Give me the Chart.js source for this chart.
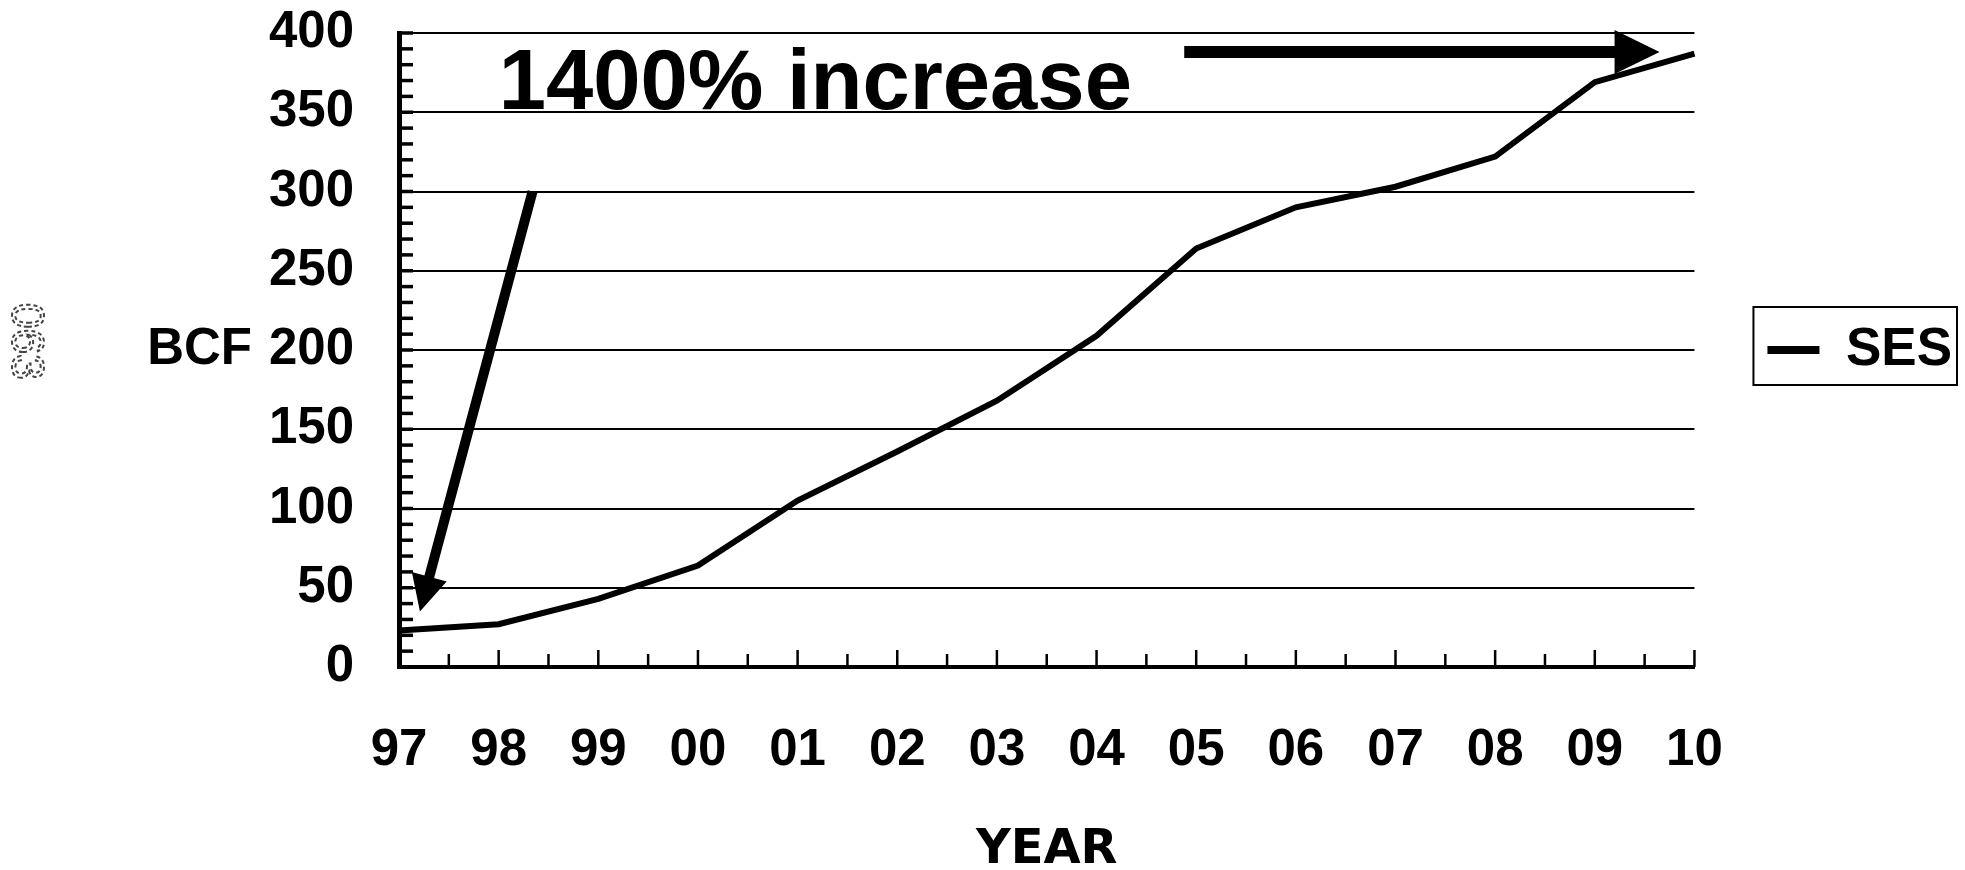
<!DOCTYPE html>
<html>
<head>
<meta charset="utf-8">
<script src="https://cdn.jsdelivr.net/npm/chart.js@4.4.1/dist/chart.umd.min.js"></script>
<style>
  html, body { margin: 0; padding: 0; background: #fff; }
  #c { display: block; }
</style>
</head>
<body>
<canvas id="c" width="1965" height="870"></canvas>
<script>
// ---- data ----
const categories = ['97', '98', '99', '00', '01', '02', '03', '04', '05', '06', '07', '08', '09', '10'];
const sesValues = [23, 27, 43, 64, 105, 136, 168, 209, 264, 290, 303, 322, 369, 387];
const yTickValues = [0, 50, 100, 150, 200, 250, 300, 350, 400];
const seriesName = 'SES';
const yAxisLabel = 'BCF';
const xAxisLabel = 'YEAR';
const calloutText = '1400% increase';
const stampText = '063';

// ---- annotation anchors (in data units: category index, BCF value) ----
const calloutAnchor = { x: 1.0, y: 352 };
const diagArrow = { from: { x: 1.34, y: 300 }, to: { x: 0.21, y: 35 } };
const flatArrow = { from: { x: 7.88, y: 388 }, to: { x: 12.65, y: 388 } };
const yAxisLabelValue = 200;

const FONT = '"Liberation Sans", Arial, Helvetica, sans-serif';

function drawArrow(ctx, x1, y1, x2, y2, shaft, headLen, headW) {
  const dx = x2 - x1, dy = y2 - y1, L = Math.hypot(dx, dy);
  const ux = dx / L, uy = dy / L, nx = -uy, ny = ux;
  const bx = x2 - ux * headLen, by = y2 - uy * headLen;
  ctx.beginPath();
  ctx.lineWidth = shaft;
  ctx.lineCap = 'butt';
  ctx.moveTo(x1, y1);
  ctx.lineTo(bx + ux * 2, by + uy * 2);
  ctx.stroke();
  ctx.beginPath();
  ctx.moveTo(x2, y2);
  ctx.lineTo(bx + nx * headW / 2, by + ny * headW / 2);
  ctx.lineTo(bx - nx * headW / 2, by - ny * headW / 2);
  ctx.closePath();
  ctx.fill();
}

const innerTicks = {
  id: 'innerTicks',
  beforeDatasetsDraw(chart) {
    const { ctx, chartArea: a } = chart;
    const xs = chart.scales.x, ys = chart.scales.y;
    ctx.save();
    ctx.strokeStyle = '#000';
    ctx.lineCap = 'butt';
    ctx.lineWidth = 3.5;
    for (let v = 10; v <= 400; v += 10) {
      const y = ys.getPixelForValue(v);
      ctx.beginPath(); ctx.moveTo(a.left, y); ctx.lineTo(a.left + 14, y); ctx.stroke();
    }
    ctx.lineWidth = 2.5;
    for (let i = 0.5; i <= categories.length - 1; i += 0.5) {
      const x = xs.getPixelForValue(i);
      const len = (i % 1 === 0) ? 17 : 13;
      ctx.beginPath(); ctx.moveTo(x, a.bottom); ctx.lineTo(x, a.bottom - len); ctx.stroke();
    }
    ctx.restore();
  }
};

const annotations = {
  id: 'annotations',
  afterDatasetsDraw(chart) {
    const { ctx } = chart;
    const xs = chart.scales.x, ys = chart.scales.y;
    ctx.save();
    ctx.fillStyle = '#000';
    ctx.strokeStyle = '#000';
    // callout text
    ctx.font = 'bold 85px ' + FONT;
    ctx.textAlign = 'left';
    ctx.textBaseline = 'alphabetic';
    ctx.fillText(calloutText, xs.getPixelForValue(calloutAnchor.x), ys.getPixelForValue(calloutAnchor.y));
    // arrows
    drawArrow(ctx,
      xs.getPixelForValue(diagArrow.from.x), ys.getPixelForValue(diagArrow.from.y),
      xs.getPixelForValue(diagArrow.to.x), ys.getPixelForValue(diagArrow.to.y), 10, 36, 36);
    drawArrow(ctx,
      xs.getPixelForValue(flatArrow.from.x), ys.getPixelForValue(flatArrow.from.y),
      xs.getPixelForValue(flatArrow.to.x), ys.getPixelForValue(flatArrow.to.y), 12, 45, 44);
    ctx.restore();
  },
  afterDraw(chart) {
    const { ctx } = chart;
    const ys = chart.scales.y;
    ctx.save();
    // y axis label beside the 200 tick
    ctx.fillStyle = '#000';
    ctx.font = 'bold 51px ' + FONT;
    ctx.textAlign = 'right';
    ctx.textBaseline = 'middle';
    ctx.fillText(yAxisLabel, 252, ys.getPixelForValue(yAxisLabelValue));
    // legend frame
    const lg = chart.legend;
    if (lg && lg.legendHitBoxes && lg.legendHitBoxes.length) {
      const hb = lg.legendHitBoxes[0];
      const cy = hb.top + hb.height / 2;
      ctx.strokeStyle = '#000';
      ctx.lineWidth = 2;
      ctx.strokeRect(hb.left - 14, cy - 43, hb.width + 14 + 5, 78);
    }
    // faint rotated stamp at the page edge
    ctx.translate(12, 303);
    ctx.rotate(Math.PI / 2);
    ctx.font = '46px ' + FONT;
    ctx.textAlign = 'left';
    ctx.textBaseline = 'alphabetic';
    ctx.strokeStyle = '#444';
    ctx.lineWidth = 2;
    ctx.setLineDash([4, 3]);
    ctx.strokeText(stampText, 0, 0);
    ctx.restore();
  }
};

const tickFont = { family: FONT, size: 51, weight: 'bold' };

new Chart(document.getElementById('c'), {
  type: 'line',
  data: {
    labels: categories,
    datasets: [{
      label: seriesName,
      data: sesValues,
      borderColor: '#000',
      backgroundColor: '#000',
      borderWidth: 6,
      pointRadius: 0,
      tension: 0,
      fill: false
    }]
  },
  options: {
    responsive: false,
    animation: false,
    devicePixelRatio: 1,
    layout: { autoPadding: false, padding: { left: 0, top: 33, right: 3, bottom: 0 } },
    plugins: {
      tooltip: { enabled: false },
      legend: {
        position: 'right',
        align: 'center',
        fullSize: false,
        labels: {
          color: '#000',
          font: { family: FONT, size: 53, weight: 'bold' },
          usePointStyle: true,
          pointStyle: 'line',
          pointStyleWidth: 52,
          padding: 73,
          generateLabels(chart) {
            return Chart.defaults.plugins.legend.labels.generateLabels(chart).map(l => Object.assign(l, { lineWidth: 8, pointStyle: 'line' }));
          }
        }
      }
    },
    scales: {
      x: {
        type: 'category',
        offset: false,
        grid: { display: true, drawOnChartArea: false, drawTicks: false },
        border: { display: true, color: '#000', width: 4 },
        ticks: { color: '#000', font: tickFont, padding: 53, maxRotation: 0, autoSkip: false },
        title: {
          display: true, text: xAxisLabel, color: '#000',
          font: { family: '"DejaVu Sans", ' + FONT, size: 48, weight: 'bold', lineHeight: 0.82 },
          padding: { top: 0, bottom: 0 }
        },
        afterFit(s) { s.height = 203; s.paddingLeft = 0; s.paddingRight = 0; }
      },
      y: {
        min: 0, max: 400,
        afterBuildTicks(s) { s.ticks = yTickValues.map(v => ({ value: v })); },
        grid: { color: '#000', lineWidth: 2, drawTicks: false },
        border: { display: true, color: '#000', width: 5 },
        ticks: { color: '#000', font: tickFont, padding: 45 },
        afterFit(s) { s.width = 399; s.paddingTop = 0; s.paddingBottom = 0; }
      }
    }
  },
  plugins: [innerTicks, annotations]
});
</script>
</body>
</html>
